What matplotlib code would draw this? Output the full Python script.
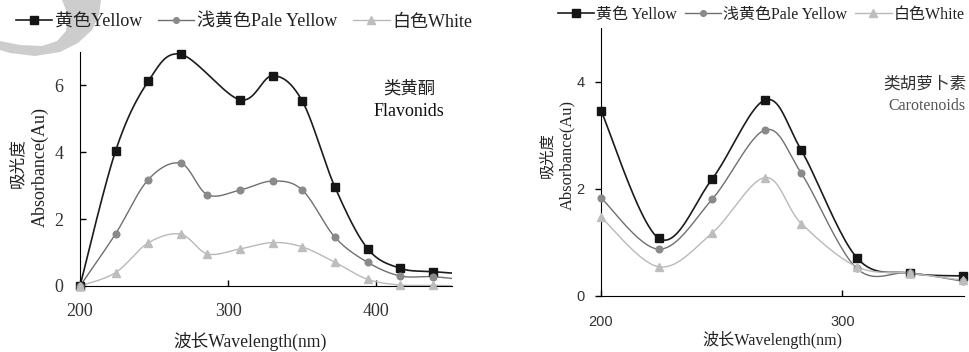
import numpy as np
import matplotlib
matplotlib.use("Agg")
import matplotlib.pyplot as plt
from matplotlib.patches import Polygon

SERIF = ["Liberation Serif", "Noto Sans CJK SC"]
SANS = ["Liberation Sans", "Noto Sans CJK SC"]

# flavonoid spectra (yellow has no reading at 286 nm)
flav_wl = [200, 224, 246, 268, 286, 308, 330, 350, 372, 394, 416, 438]
flav_wl_yellow = [200, 224, 246, 268, 308, 330, 350, 372, 394, 416, 438]
flav_yellow = [0, 4.04, 6.12, 6.93, 5.57, 6.29, 5.53, 2.96, 1.12, 0.53, 0.43]
flav_pale = [0, 1.56, 3.18, 3.67, 2.73, 2.87, 3.14, 2.87, 1.46, 0.71, 0.30, 0.28]
flav_white = [0, 0.40, 1.29, 1.55, 0.96, 1.11, 1.30, 1.17, 0.71, 0.20, 0.03, 0.02]
# readings past the plotted range, only the curve runs out to them
flav_tail_wl = 460
flav_tail = {"yellow": 0.36, "pale": 0.18, "white": 0.0}

# carotenoid spectra
car_wl = [200, 224, 246, 268, 283, 306, 328, 350]
car_yellow = [3.46, 1.07, 2.18, 3.66, 2.72, 0.71, 0.42, 0.37]
car_pale = [1.83, 0.87, 1.80, 3.10, 2.29, 0.51, 0.43, 0.27]
car_white = [1.47, 0.54, 1.17, 2.21, 1.35, 0.54, 0.42, 0.29]

labels_left = ["黄色Yellow", "浅黄色Pale Yellow", "白色White"]
labels_right = ["黄色 Yellow", "浅黄色Pale Yellow", "白色White"]


def smooth(x, y, n=24):
    # Bezier smoothing through every point, like a spreadsheet "smoothed line"
    pts = np.column_stack([x, y]).astype(float)
    P = np.vstack([pts[0], pts, pts[-1]])
    out = []
    t = np.linspace(0, 1, n)[:, None]
    for i in range(1, len(P) - 2):
        p0, p1, p2, p3 = P[i - 1], P[i], P[i + 1], P[i + 2]
        c1 = p1 + (p2 - p0) / 6
        c2 = p2 - (p3 - p1) / 6
        seg = (1 - t) ** 3 * p1 + 3 * (1 - t) ** 2 * t * c1 + 3 * (1 - t) * t ** 2 * c2 + t ** 3 * p2
        out.append(seg if i == 1 else seg[1:])
    s = np.vstack(out)
    return s[:, 0], s[:, 1]


styles = {
    "yellow": dict(color="#1c1c1c", marker="s", ms=6.2, mfc="#151515", lw=1.2),
    "pale": dict(color="#6f6f6f", marker="o", ms=4.8, mfc="#8a8a8a", lw=1.0),
    "white": dict(color="#b9b9b9", marker="^", ms=6.0, mfc="#bdbdbd", lw=1.0),
}


def draw(ax, key, x, y, tail_x=None, tail_y=None, label=None):
    st = styles[key]
    xs, ys = list(x), list(y)
    if tail_x is not None:
        xs.append(tail_x)
        ys.append(tail_y)
    sx, sy = smooth(xs, ys)
    ax.plot(sx, sy, color=st["color"], lw=st["lw"], zorder=2)
    ax.plot(x, y, ls="none", marker=st["marker"], ms=st["ms"], mfc=st["mfc"],
            mec=st["mfc"], clip_on=False, zorder=3)
    return plt.Line2D([], [], color=st["color"], lw=st["lw"], marker=st["marker"],
                      ms=st["ms"] * 0.85, mfc=st["mfc"], mec=st["mfc"], label=label)


fig = plt.figure(figsize=(9.69, 3.52), dpi=100)

# faint logo crescent in the corner (pixel coordinates)
bg = fig.add_axes([0, 0, 1, 1], zorder=-5)
bg.set_xlim(0, 969)
bg.set_ylim(352, 0)
bg.axis("off")
crescent = [(101, 0), (99, 15), (92, 30), (78, 43), (60, 52), (35, 56), (10, 53), (0, 50),
            (0, 41), (20, 45), (42, 46), (57, 41), (66, 31), (68, 15), (62, 0)]
bg.add_patch(Polygon(crescent, closed=True, color="#cdcdcd", lw=0))

# ---- left panel: flavonoids
ax1 = fig.add_axes([80 / 969, 66 / 352, 372 / 969, 234 / 352])
h1 = draw(ax1, "yellow", flav_wl_yellow, flav_yellow, flav_tail_wl, flav_tail["yellow"], labels_left[0])
h2 = draw(ax1, "pale", flav_wl, flav_pale, flav_tail_wl, flav_tail["pale"], labels_left[1])
h3 = draw(ax1, "white", flav_wl, flav_white, flav_tail_wl, flav_tail["white"], labels_left[2])
ax1.set_xlim(200, 451)
ax1.set_ylim(0, 7)
ax1.set_xticks([200, 300, 400])
ax1.set_yticks([0, 2, 4, 6])
ax1.tick_params(axis="both", direction="in", length=4, width=1, labelsize=13,
                labelcolor="#333333")
ax1.tick_params(axis="x", pad=12)
ax1.tick_params(axis="y", pad=12)
for lab in ax1.get_xticklabels() + ax1.get_yticklabels():
    lab.set_family(SERIF)
ax1.spines[["top", "right"]].set_visible(False)
ax1.text(0.885, 0.84, "类黄酮", transform=ax1.transAxes, ha="center", va="center",
         fontsize=12.5, family=SERIF, color="#222222")
ax1.text(0.885, 0.745, "Flavonids", transform=ax1.transAxes, ha="center", va="center",
         fontsize=13, family=SERIF, color="#111111")
ax1.legend(handles=[h1, h2, h3], loc="center", bbox_to_anchor=(244 / 969, 1 - 22 / 352),
           bbox_transform=fig.transFigure, ncol=3, frameon=False,
           prop={"family": SERIF, "size": 13}, handlelength=2.0, handletextpad=0.15,
           columnspacing=0.9, labelcolor="#222222")

fig.text(250 / 969, 1 - 342 / 352, "波长Wavelength(nm)", ha="center", va="center",
         fontsize=12.7, family=SERIF, color="#222222")
fig.text(18 / 969, 1 - 163 / 352, "吸光度", rotation=90, ha="center", va="center",
         fontsize=12, family=SERIF, color="#222222")
fig.text(40 / 969, 1 - 167 / 352, "Absorbance(Au)", rotation=90, ha="center", va="center",
         fontsize=13, family=SERIF, color="#222222")

# ---- right panel: carotenoids
ax2 = fig.add_axes([601 / 969, 56.3 / 352, 363 / 969, 267.4 / 352])
g1 = draw(ax2, "yellow", car_wl, car_yellow, label=labels_right[0])
g2 = draw(ax2, "pale", car_wl, car_pale, label=labels_right[1])
g3 = draw(ax2, "white", car_wl, car_white, label=labels_right[2])
ax2.set_xlim(200, 350.4)
ax2.set_ylim(0, 5)
ax2.set_xticks([200, 300])
ax2.set_yticks([0, 2, 4])
ax2.tick_params(axis="x", direction="in", length=4, width=1, pad=14, labelsize=10.5,
                labelcolor="#333333")
ax2.tick_params(axis="y", direction="out", length=4, width=1, pad=8, labelsize=10.5,
                labelcolor="#333333")
for lab in ax2.get_xticklabels() + ax2.get_yticklabels():
    lab.set_family(SANS)
ax2.spines[["top", "right"]].set_visible(False)
ax2.text(925 / 969, 1 - 85 / 352, "类胡萝卜素", transform=fig.transFigure, ha="center",
         va="center", fontsize=12, family=SERIF, color="#333333")
ax2.text(927 / 969, 1 - 106 / 352, "Carotenoids", transform=fig.transFigure, ha="center",
         va="center", fontsize=11.5, family=SERIF, color="#555555")
ax2.legend(handles=[g1, g2, g3], loc="center", bbox_to_anchor=(761 / 969, 1 - 15 / 352),
           bbox_transform=fig.transFigure, ncol=3, frameon=False,
           prop={"family": SERIF, "size": 11.5}, handlelength=2.3, handletextpad=0.1,
           columnspacing=0.5, labelcolor="#222222")

fig.text(772 / 969, 1 - 340 / 352, "波长Wavelength(nm)", ha="center", va="center",
         fontsize=11.6, family=SERIF, color="#222222")
fig.text(547 / 969, 1 - 155 / 352, "吸光度", rotation=90, ha="center", va="center",
         fontsize=11, family=SERIF, color="#222222")
fig.text(567 / 969, 1 - 155 / 352, "Absorbance(Au)", rotation=90, ha="center", va="center",
         fontsize=11.9, family=SERIF, color="#222222")

fig.savefig("out.png", dpi=100)
